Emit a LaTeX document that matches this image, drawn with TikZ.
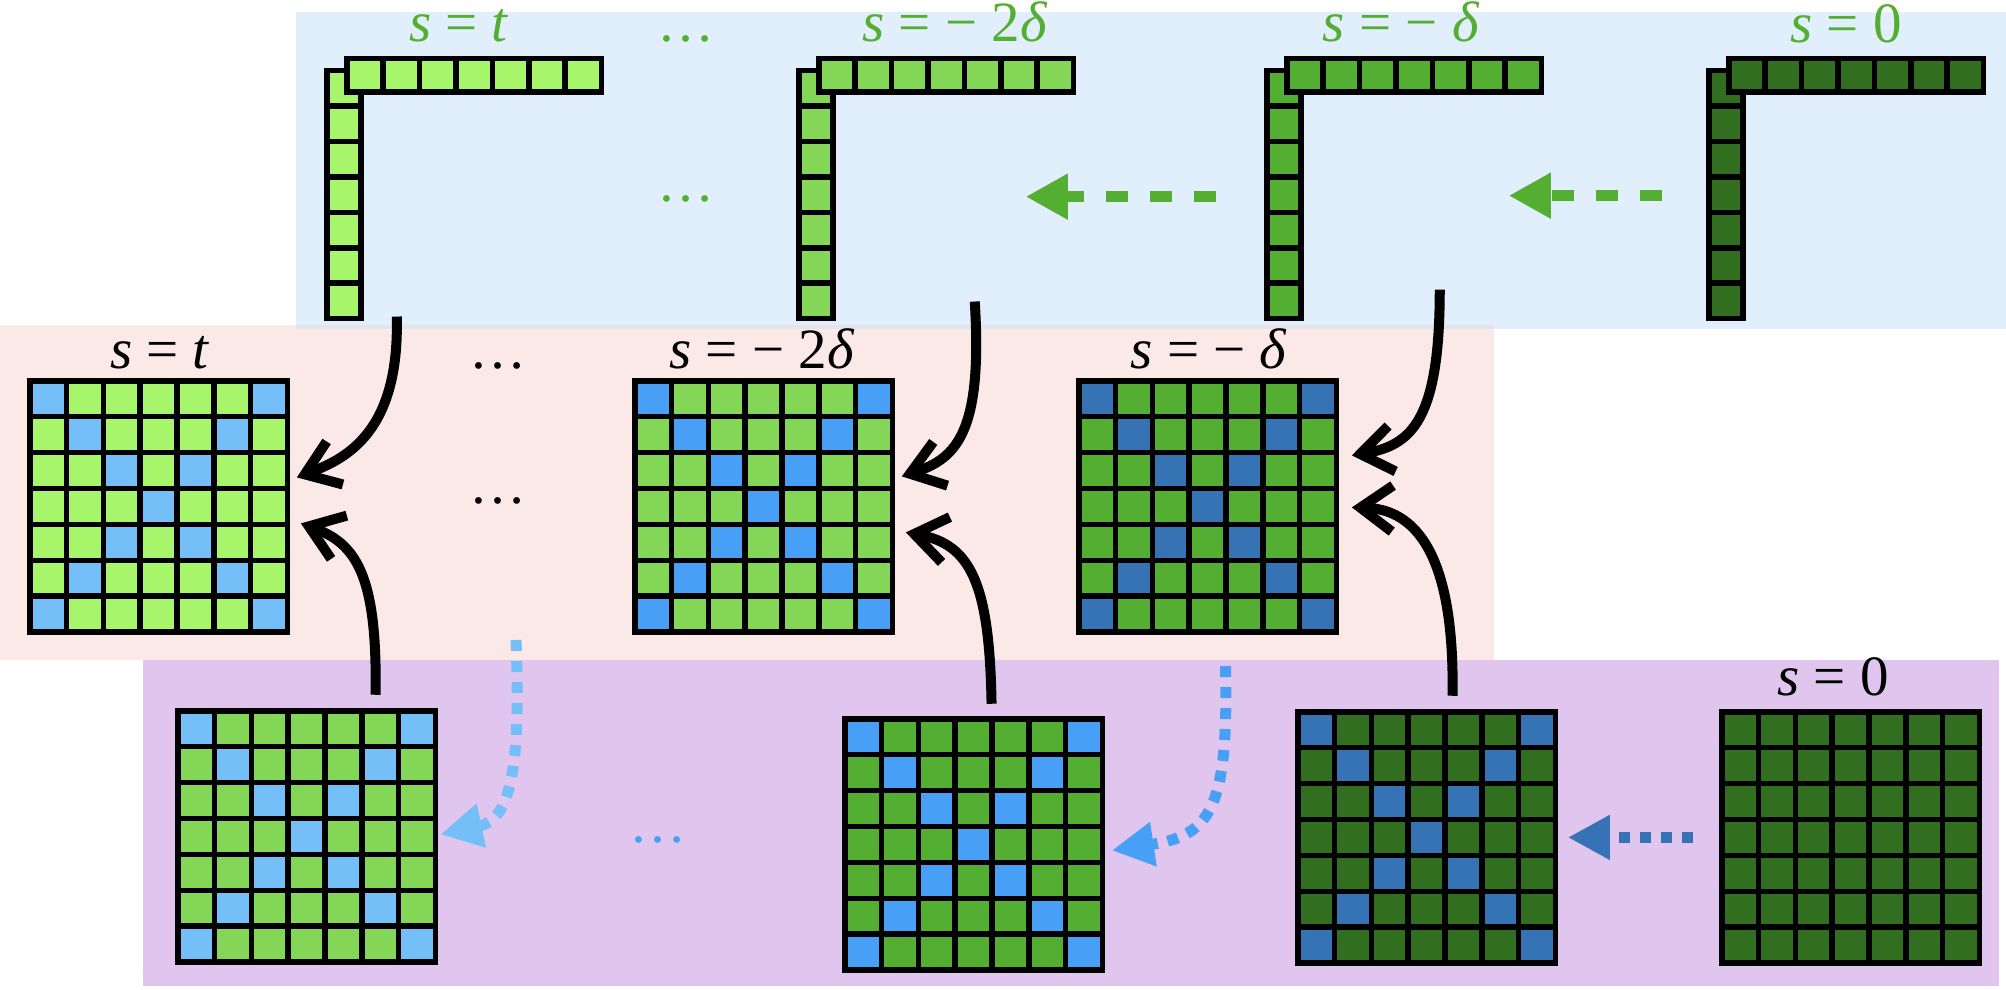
\documentclass[tikz,border=0pt]{standalone}
\usepackage{fontspec}
\setmainfont{Liberation Serif}
\usepackage{tikz}
\usetikzlibrary{arrows.meta,calc}

\begin{document}
\begin{tikzpicture}[x=1pt,y=-1pt,line cap=rect,
    cellbox/.style={line width=5.5pt, draw=black},
    gridline/.style={line width=5.5pt, black},
    lbl/.style={inner sep=0, outer sep=0, anchor=base, font=\fontsize{57}{62}\selectfont},
    flow/.style={line width=10pt, line cap=butt, -{Straight Barb[length=32pt,width=46pt]}},
    greenflow/.style={custcol_53_ae_32, line width=11pt, line cap=butt, dash pattern=on 22pt off 22pt, -{Triangle[length=42pt,width=43pt]}},
    blueflow/.style={line width=11pt, line cap=butt, dash pattern=on 11pt off 10pt, -{Triangle[length=42pt,width=42pt]}}]
    \definecolor{custcol_e1_ef_fc}{RGB}{225, 239, 252}
    \definecolor{custcol_fb_e9_e7}{RGB}{251, 233, 231}
    \definecolor{custcol_e0_c6_ef}{RGB}{224, 198, 239}
    \definecolor{custcol_e3_e4_ec}{RGB}{227, 228, 236}
    \definecolor{custcol_a6_f5_6a}{RGB}{166, 245, 106}
    \definecolor{custcol_83_d6_56}{RGB}{131, 214, 86}
    \definecolor{custcol_53_ae_32}{RGB}{83, 174, 50}
    \definecolor{custcol_31_6e_1f}{RGB}{49, 110, 31}
    \definecolor{custcol_74_bf_f8}{RGB}{116, 191, 248}
    \definecolor{custcol_47_a0_f5}{RGB}{71, 160, 245}
    \definecolor{custcol_35_73_b5}{RGB}{53, 115, 181}
    % column + row of one vector: #1 left x, #2 fill, #3 name
    \def\lvec#1#2#3{%
      \foreach \k in {0,...,6}
        \draw[cellbox, fill=#2] ({#1+2.75},{70.75+\k*35.4}) rectangle ++(34,35.4);
      \foreach \k in {0,...,6}
        \draw[cellbox, fill=#2] ({#1+22.75+\k*36.4},58.75) rectangle ++(36.4,33);
      \node[inner sep=0, outer sep=0, minimum width=34pt, minimum height=247.8pt, anchor=north west] (#3) at ({#1+2.75},70.75) {};
    }
    % 7x7 grid: #1,#2 top left, #3 green, #4 blue (diagonals), #5 name
    \def\cellgrid#1#2#3#4#5{%
      \foreach \r in {0,...,6}{
        \foreach \c in {0,...,6}{
          \pgfmathtruncatemacro\ondiag{(\r==\c)||(\r+\c==6)}
          \ifnum\ondiag=1 \def\cellcol{#4}\else\def\cellcol{#3}\fi
          \fill[\cellcol] ({#1+2.75+\c*36.8},{#2+2.75+\r*35.9}) rectangle ++(36.8,35.9);
        }
      }
      \foreach \k in {0,...,7}{
        \draw[gridline] ({#1+2.75+\k*36.8},{#2+2.75}) -- ++(0,251.3);
        \draw[gridline] ({#1+2.75},{#2+2.75+\k*35.9}) -- ++(257.6,0);
      }
      \node[inner sep=0, outer sep=0, minimum width=257.6pt, minimum height=251.3pt, anchor=north west] (#5) at ({#1+2.75},{#2+2.75}) {};
    }
    \useasboundingbox (0,0) rectangle (2006,990);
    % bands
    \fill[custcol_fb_e9_e7] (0,325) rectangle (1494,660);
    \fill[custcol_e0_c6_ef] (143,660) rectangle (1999,986);
    \fill[custcol_e1_ef_fc] (296,12) rectangle (2006,329);
    \fill[custcol_e3_e4_ec] (296,325) rectangle (1494,329);
    % top row
    \lvec{324}{custcol_a6_f5_6a}{vecA}
    \lvec{796}{custcol_83_d6_56}{vecB}
    \lvec{1264}{custcol_53_ae_32}{vecC}
    \lvec{1706}{custcol_31_6e_1f}{vecD}
    % middle row
    \cellgrid{27}{378}{custcol_a6_f5_6a}{custcol_74_bf_f8}{midA}
    \cellgrid{632}{378}{custcol_83_d6_56}{custcol_47_a0_f5}{midB}
    \cellgrid{1076}{378}{custcol_53_ae_32}{custcol_35_73_b5}{midC}
    % bottom row
    \cellgrid{175}{708}{custcol_83_d6_56}{custcol_74_bf_f8}{lowA}
    \cellgrid{842}{716}{custcol_53_ae_32}{custcol_47_a0_f5}{lowB}
    \cellgrid{1295}{709}{custcol_31_6e_1f}{custcol_35_73_b5}{lowC}
    \cellgrid{1719}{709}{custcol_31_6e_1f}{custcol_31_6e_1f}{lowD}
    % labels
    \node[lbl, custcol_53_ae_32] (topA) at (459,42) {\textit{s} = \textit{t}};
    \node[lbl, custcol_53_ae_32] (dotsT1) at (686,42) {…};
    \node[lbl, custcol_53_ae_32] (dotsT2) at (686,201) {…};
    \node[lbl, custcol_53_ae_32] (topB) at (955,42) {\textit{s} = − 2\textit{δ}};
    \node[lbl, custcol_53_ae_32] (topC) at (1401,42) {\textit{s} = − \textit{δ}};
    \node[lbl, custcol_53_ae_32] (topD) at (1846,43) {\textit{s} = 0};
    \node[lbl] (labA) at (160,368) {\textit{s} = \textit{t}};
    \node[lbl] (dotsM1) at (498,368) {…};
    \node[lbl] (dotsM2) at (498,503) {…};
    \node[lbl] (labB) at (762,368) {\textit{s} = − 2\textit{δ}};
    \node[lbl] (labC) at (1209,368) {\textit{s} = − \textit{δ}};
    \node[lbl] (labD) at (1833,695) {\textit{s} = 0};
    \node[lbl, custcol_47_a0_f5] (dotsL) at (658,842) {…};
    % green arrows
    \draw[greenflow] ($(vecC.west)+(-51,2)$) -- ($(vecB.east)+(193,2)$);
    \draw[greenflow] ($(vecD.west)+(-47,1)$) -- ($(vecC.east)+(208,1)$);
    % black arrows
    \draw[flow] ($(vecA.south east)+(36,-2)$) .. controls +(3,115) and +(50,-19) .. ($(midA.east)+(9.5,-29)$);
    \draw[flow] ($(lowA.north)+(69,-16)$) .. controls +(2,-120) and +(55,20) .. ($(midA.east)+(13.5,17)$);
    \draw[flow] ($(vecB.south east)+(142,-17)$) .. controls +(8,130) and +(55,-18) .. ($(midB.east)+(9.5,-30)$);
    \draw[flow] ($(lowB.north)+(18,-15)$) .. controls +(-2,-120) and +(65,12) .. ($(midB.east)+(13.5,26)$);
    \draw[flow] ($(vecC.south east)+(139,-29)$) .. controls +(0,130) and +(60,-10) .. ($(midC.east)+(15.5,-51)$);
    \draw[flow] ($(lowC.north)+(26,-16)$) .. controls +(2,-130) and +(70,2) .. ($(midC.east)+(15.5,1)$);
    % blue arrows
    \draw[blueflow, custcol_74_bf_f8] ($(dotsM2.base)+(18,137)$) .. controls +(5,130) and +(70,-15) .. ($(lowA.east)+(5,-2)$);
    \draw[blueflow, custcol_47_a0_f5] ($(midC.south)+(18,34)$) .. controls +(3,140) and +(100,-15) .. ($(lowB.east)+(9.5,6)$);
    \draw[blueflow, custcol_35_73_b5] ($(lowD.west)+(-29,0)$) -- ($(lowC.east)+(12.5,0)$);
\end{tikzpicture}
\end{document}
